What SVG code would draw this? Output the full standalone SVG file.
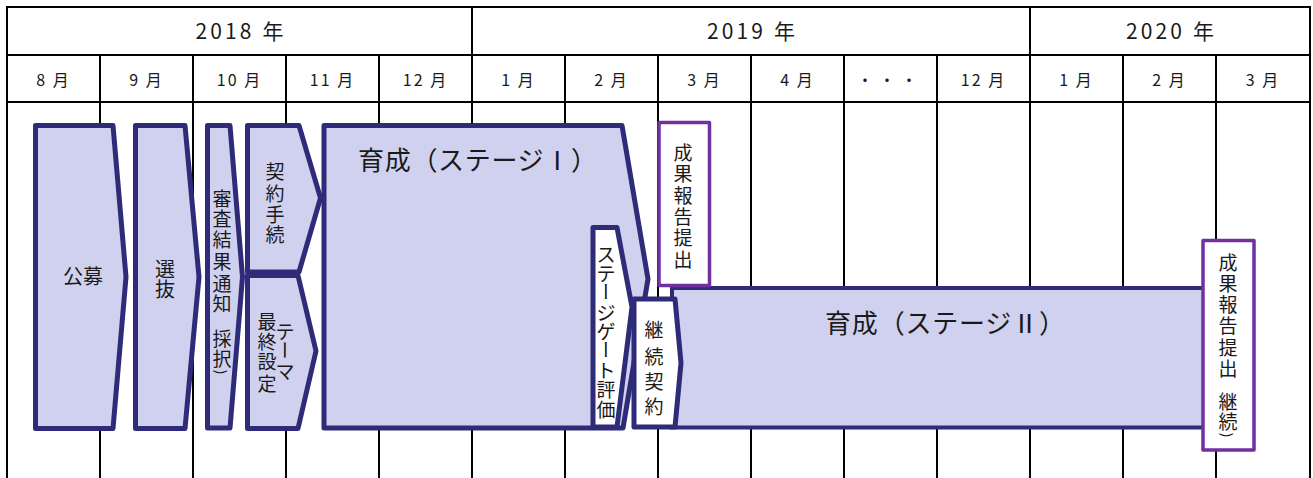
<svg xmlns="http://www.w3.org/2000/svg" width="1313" height="478" viewBox="0 0 1313 478">
<style>
text { font-family: "Noto Sans CJK JP", "Noto Sans", sans-serif; fill: #1a1a1a; }
.grid line { stroke: #000; stroke-width: 2; }
.yr { font-size: 21px; text-anchor: middle; }
.mo { font-size: 16px; text-anchor: middle; dominant-baseline: central; letter-spacing: 2px; }
.shape { fill: #d0d1ee; stroke: #2e2b78; stroke-width: 5; stroke-linejoin: round; }
.wshape { fill: #ffffff; stroke: #2e2b78; stroke-width: 5; stroke-linejoin: round; }
.band { fill: #d0d1ee; stroke: #2e2b78; stroke-width: 4; }
.report { fill: #ffffff; stroke: #7030a0; stroke-width: 3.5; stroke-linejoin: round; }
.v { font-size: 19px; text-anchor: middle; dominant-baseline: central; }
.par { font-size: 14px; text-anchor: middle; dominant-baseline: central; }
.big { font-size: 26px; }
</style>
<rect width="1313" height="478" fill="#ffffff"/>
<g id="grid" class="grid">
  <line x1="6" y1="7" x2="1311" y2="7"/>
  <line x1="6" y1="55" x2="1311" y2="55"/>
  <line x1="6" y1="102" x2="1311" y2="102"/>
  <line x1="7" y1="7" x2="7" y2="478"/>
  <line x1="1310" y1="7" x2="1310" y2="478"/>
  <line x1="472" y1="7" x2="472" y2="478"/>
  <line x1="1030" y1="7" x2="1030" y2="478"/>
  <line x1="100" y1="55" x2="100" y2="478"/>
  <line x1="193" y1="55" x2="193" y2="478"/>
  <line x1="286" y1="55" x2="286" y2="478"/>
  <line x1="379" y1="55" x2="379" y2="478"/>
  <line x1="565" y1="55" x2="565" y2="478"/>
  <line x1="658" y1="55" x2="658" y2="478"/>
  <line x1="751" y1="55" x2="751" y2="478"/>
  <line x1="844" y1="55" x2="844" y2="478"/>
  <line x1="937" y1="55" x2="937" y2="478"/>
  <line x1="1123" y1="55" x2="1123" y2="478"/>
  <line x1="1216" y1="55" x2="1216" y2="478"/>
</g>
<g id="header">
  <text class="yr" x="239.5" y="39" textLength="88" lengthAdjust="spacing">2018 年</text>
  <text class="yr" x="751" y="39" textLength="88" lengthAdjust="spacing">2019 年</text>
  <text class="yr" x="1170" y="39" textLength="88" lengthAdjust="spacing">2020 年</text>
  <text class="mo" x="53.5" y="79">8 月</text>
  <text class="mo" x="146.5" y="79">9 月</text>
  <text class="mo" x="239.5" y="79">10 月</text>
  <text class="mo" x="332.5" y="79">11 月</text>
  <text class="mo" x="425.5" y="79">12 月</text>
  <text class="mo" x="518.5" y="79">1 月</text>
  <text class="mo" x="611.5" y="79">2 月</text>
  <text class="mo" x="704.5" y="79">3 月</text>
  <text class="mo" x="797.5" y="79">4 月</text>
  <text class="mo" x="866 888 910" y="79">・・・</text>
  <text class="mo" x="983.5" y="79">12 月</text>
  <text class="mo" x="1076.5" y="79">1 月</text>
  <text class="mo" x="1169.5" y="79">2 月</text>
  <text class="mo" x="1263" y="79">3 月</text>
</g>
<g id="koubo">
  <polygon class="shape" points="35.5,125.5 113,125.5 126,277 113,428.5 35.5,428.5"/>
  <text class="v" style="font-size:20px" x="83" y="275">公募</text>
</g>
<g id="senbatsu">
  <polygon class="shape" points="135.5,125.5 185,125.5 199,277 185,428.5 135.5,428.5"/>
  <text class="v" style="font-size:20px" x="165 165" y="268 288">選抜</text>
</g>
<g id="shinsa">
  <polygon class="shape" points="207.5,125.5 230,125.5 242.5,277 230,428 207.5,428"/>
  <text class="v" x="222 222 222 222 222 222 222 222" y="197 217 238 260 282 302 337 357">審査結果通知採択</text>
  <text class="par" x="222" y="372" transform="rotate(90 222 372)">)</text>
</g>
<g id="keiyaku">
  <polygon class="shape" points="247.5,125.5 299,125.5 320.5,198 299,272 247.5,272"/>
  <text class="v" x="275 275 275 275" y="170 192 213 233">契約手続</text>
</g>
<g id="theme">
  <polygon class="shape" points="247.5,275.5 298,275.5 316,351 298,428.5 247.5,428.5"/>
  <text class="v" x="267 267 267 267" y="320 340 360 382">最終設定</text>
  <text class="v" x="285" y="330">テ</text>
  <text class="v" x="285" y="350" transform="rotate(90 285 350)">ー</text>
  <text class="v" x="285" y="370">マ</text>
</g>
<g id="ikusei1">
  <polygon class="shape" points="324,125.5 622,125.5 648,279 623,428 324,428"/>
  <text class="big" x="358" y="170" textLength="239" lengthAdjust="spacing">育成（ステージⅠ）</text>
</g>
<g id="stagegate">
  <polygon class="wshape" points="593,227.5 617,227.5 632,307 617,427 593,427"/>
  <text class="v" x="606 606" y="253 272">ステ</text>
  <text class="v" x="606" y="291.5" transform="rotate(90 606 291.5)">ー</text>
  <text class="v" x="606 606" y="311 330">ジゲ</text>
  <text class="v" x="606" y="349.5" transform="rotate(90 606 349.5)">ー</text>
  <text class="v" x="606 606 606" y="369 388.5 408">ト評価</text>
</g>
<g id="ikusei2">
  <rect class="band" x="672" y="288" width="540" height="139.5"/>
  <text class="big" x="825" y="333" textLength="240" lengthAdjust="spacing">育成（ステージⅡ）</text>
</g>
<g id="keizoku">
  <polygon class="wshape" points="634,299 675,299 681,363 675,427 634,427"/>
  <text class="v" x="654 654 654 654" y="328 355 380 405">継続契約</text>
</g>
<g id="report1">
  <rect class="report" x="659" y="122.5" width="50.5" height="163"/>
  <text class="v" x="683 683 683 683 683 683" y="151 172 194 215 236 258">成果報告提出</text>
</g>
<g id="report2">
  <rect class="report" x="1203" y="240.5" width="51" height="209.5"/>
  <text class="v" x="1228 1228 1228 1228 1228 1228 1228 1228" y="261 282 303 324 346 367 400 420">成果報告提出継続</text>
  <text class="par" x="1228" y="435" transform="rotate(90 1228 435)">)</text>
</g>
<g id="connectors"></g>
</svg>
